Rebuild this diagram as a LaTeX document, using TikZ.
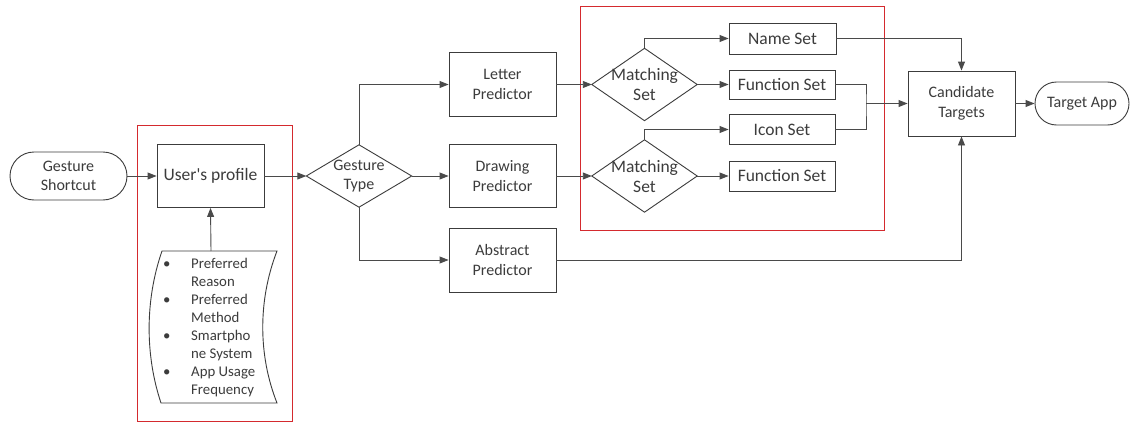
\documentclass[tikz,border=0pt]{standalone}
\usepackage{fontspec}
\setmainfont{Carlito}[Ligatures=TeXOff]
\usetikzlibrary{arrows.meta}
\definecolor{ink}{HTML}{3C3C3C}
\definecolor{wire}{HTML}{4A4A4A}
\definecolor{frame}{HTML}{D42A2E}
\begin{document}
\begin{tikzpicture}[x=1pt,y=-1pt,
  box/.style={draw=ink,line width=0.9pt,fill=white,inner sep=0pt,align=center,text=ink,
    font=\fontsize{16}{19.5}\selectfont},
  setbox/.style={box,font=\fontsize{17.5}{21}\selectfont},
  term/.style={box,rounded corners=#1},
  dia/.style={inner sep=0pt,align=center,text=ink},
  arr/.style={draw=wire,line width=0.9pt,-{Triangle[length=9pt,width=7pt]}},
  wireline/.style={draw=wire,line width=0.9pt},
  redframe/.style={draw=frame,line width=0.9pt}]
\useasboundingbox[fill=white] (0,0) rectangle (1133,423);

% highlighted groups
\draw[redframe] (137,125) rectangle (292,421);
\draw[redframe] (580,6) rectangle (884,230);

% start terminal and profile
\node[term=24pt,minimum width=117pt,minimum height=48pt] (gs) at (68.5,176) {Gesture\\Shortcut};
\node[box,minimum width=107pt,minimum height=63pt,font=\fontsize{17.5}{21}\selectfont] (prof) at (210.5,176) {User's profile};

% profile attributes document
\draw[ink,line width=0.9pt,fill=white]
  (162,251) -- (277,251)
  .. controls (258,300) and (258,355) .. (277,403)
  -- (161,403)
  .. controls (145,355) and (145,300) .. (162,251) -- cycle;
\coordinate (docTop) at (211,251);
\node[anchor=west,inner sep=0pt,text=ink,font=\fontsize{14.8}{18}\selectfont] (attrs) at (163,328)
  {\begin{tabular}{@{}l@{}l@{}}
   \makebox[28pt][l]{\textbullet} & Preferred\\
   & Reason\\
   \makebox[28pt][l]{\textbullet} & Preferred\\
   & Method\\
   \makebox[28pt][l]{\textbullet} & Smartpho\\
   & ne System\\
   \makebox[28pt][l]{\textbullet} & App Usage\\
   & Frequency
   \end{tabular}};

% gesture type decision
\node[dia,minimum width=105pt,minimum height=62pt,font=\fontsize{16}{19.5}\selectfont] (gt) at (359,176) {Gesture\\Type};
\draw[ink,line width=0.9pt] (gt.north) -- (gt.east) -- (gt.south) -- (gt.west) -- cycle;

% predictors
\node[box,minimum width=107pt,minimum height=64pt] (lp) at (502.5,84.5) {Letter\\Predictor};
\node[box,minimum width=107pt,minimum height=63pt] (dp) at (502.5,176) {Drawing\\Predictor};
\node[box,minimum width=107pt,minimum height=64pt] (ap) at (502.5,260) {Abstract\\Predictor};

% matching decisions
\node[dia,minimum width=105pt,minimum height=72pt,font=\fontsize{17.5}{20}\selectfont] (ms1) at (644.5,84.5) {Matching\\Set};
\draw[ink,line width=0.9pt] (ms1.north) -- (ms1.east) -- (ms1.south) -- (ms1.west) -- cycle;
\node[dia,minimum width=105pt,minimum height=72pt,font=\fontsize{17.5}{20}\selectfont] (ms2) at (644.5,176) {Matching\\Set};
\draw[ink,line width=0.9pt] (ms2.north) -- (ms2.east) -- (ms2.south) -- (ms2.west) -- cycle;

% candidate sets
\node[setbox,minimum width=107pt,minimum height=31pt] (ns) at (782.5,38.5) {Name Set};
\node[setbox,minimum width=106pt,minimum height=29pt] (fs1) at (782,84.5) {Function Set};
\node[setbox,minimum width=106pt,minimum height=30pt] (is) at (782,129.5) {Icon Set};
\node[setbox,minimum width=106pt,minimum height=30pt] (fs2) at (782,176) {Function Set};

% result
\node[box,minimum width=107pt,minimum height=65pt] (ct) at (961.5,103.5) {Candidate\\Targets};
\node[term=21.5pt,minimum width=94pt,minimum height=43pt] (ta) at (1082,103.5) {Target App};

% connectors
\draw[arr] (gs.east) -- (prof.west);
\draw[arr] (docTop) -- (prof.south);
\draw[arr] (prof.east) -- (gt.west);
\draw[arr] (gt.north) |- (lp.west);
\draw[arr] (gt.east) -- (dp.west);
\draw[arr] (gt.south) |- (ap.west);
\draw[arr] (lp.east) -- (ms1.west);
\draw[arr] (dp.east) -- (ms2.west);
\draw[arr] (ms1.north) |- (ns.west);
\draw[arr] (ms1.east) -- (fs1.west);
\draw[arr] (ms2.north) |- (is.west);
\draw[arr] (ms2.east) -- (fs2.west);
\coordinate (merge) at (866,103.5);
\draw[wireline] (fs1.east) -| (merge) |- (is.east);
\draw[arr] (merge) -- (ct.west);
\draw[arr] (ns.east) -| (ct.north);
\draw[arr] (ap.east) -| (ct.south);
\draw[arr] (ct.east) -- (ta.west);
\end{tikzpicture}
\end{document}
